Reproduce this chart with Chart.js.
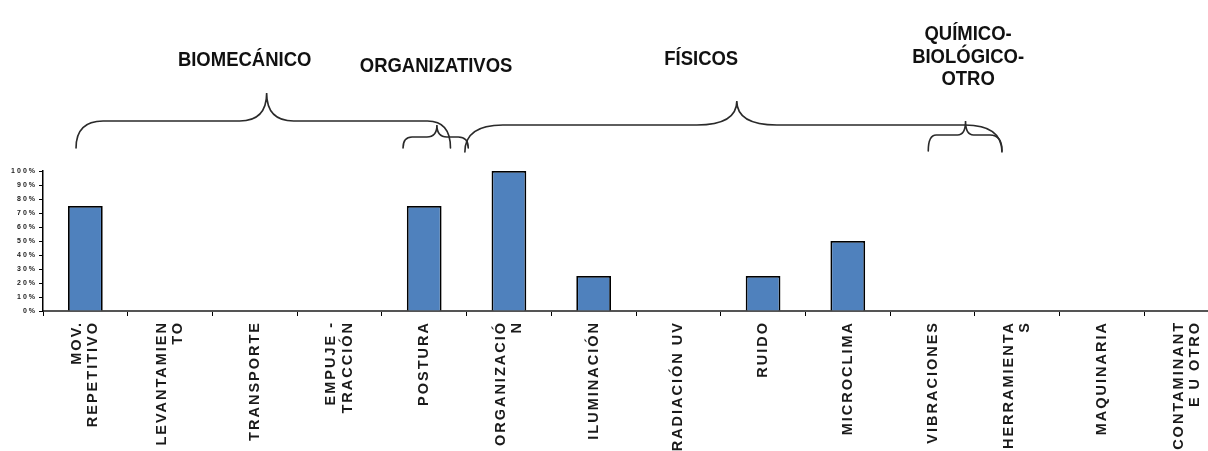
<!DOCTYPE html>
<html>
<head>
<meta charset="utf-8">
<script src="https://cdn.jsdelivr.net/npm/chart.js@4.4.1/dist/chart.umd.min.js"></script>
<style>
  html, body { margin: 0; padding: 0; background: #fff; overflow: hidden; width: 1208px; height: 451px; }
  #wrap { position: absolute; left: 0; top: 0; width: 1236px; height: 451px; }
</style>
</head>
<body>
<div id="wrap"><canvas id="c" width="1236" height="451"></canvas></div>
<script>
// Risk factors (categories) and the share of each one
const categories = [
  ['MOV.', 'REPETITIVO'],
  ['LEVANTAMIEN', 'TO'],
  'TRANSPORTE',
  ['EMPUJE -', 'TRACCIÓN'],
  'POSTURA',
  ['ORGANIZACIÓ', 'N'],
  'ILUMINACIÓN',
  'RADIACIÓN UV',
  'RUIDO',
  'MICROCLIMA',
  'VIBRACIONES',
  ['HERRAMIENTA', 'S'],
  'MAQUINARIA',
  ['CONTAMINANT', 'E U OTRO']
];
const values = [75, 0, 0, 0, 75, 100, 25, 0, 25, 50, 0, 0, 0, 0];
const yTickLabels = ['0%', '10%', '20%', '30%', '40%', '50%', '60%', '70%', '80%', '90%', '100%'];
const groupTitles = [
  ['BIOMECÁNICO'],
  ['ORGANIZATIVOS'],
  ['FÍSICOS'],
  ['QUÍMICO-', 'BIOLÓGICO-', 'OTRO']
];

const FONT = '"Liberation Sans", Arial, Helvetica, sans-serif';

// Wide tracking used for all axis text
const tracking = {
  id: 'tracking',
  beforeUpdate(chart) { chart.ctx.letterSpacing = '2px'; },
  beforeDraw(chart) { chart.ctx.letterSpacing = '2px'; }
};

// Centre multi-line rotated labels as a block on their tick
const centerLabels = {
  id: 'centerLabels',
  afterLayout(chart) {
    const items = chart.scales.x.getLabelItems();
    items.forEach(it => {
      if (Array.isArray(it.label) && it.label.length > 1) {
        it.options.translation[0] -= (it.label.length - 1) * it.font.lineHeight / 2;
      }
    });
  }
};

// Curly braces grouping the categories, with their group titles
const braceLayout = [
  { from: -0.11, tip: 2.14, to: 4.31, yTip: 93,  yBar: 121, yEnd: 148, rl: 27, rt: 27, rr: 23 },
  { from: 3.75,  tip: 4.15, to: 4.52, yTip: 125, yBar: 137, yEnd: 148, rl: 9,  rt: 10, rr: 10 },
  { from: 4.48,  tip: 7.69, to: 10.82, yTip: 101, yBar: 125, yEnd: 152, rl: 38, rt: 40, rr: 37 },
  { from: 9.95,  tip: 10.39, to: 10.82, yTip: 121, yBar: 135, yEnd: 151, rl: 8,  rt: 8,  rr: 12 }
];
const titleLayout = [
  { at: 1.88,  baselines: [66] },
  { at: 4.14,  baselines: [72] },
  { at: 7.27,  baselines: [65] },
  { at: 10.42, baselines: [40, 62.5, 85] }
];

function drawBrace(ctx, xl, xt, xr, b) {
  ctx.beginPath();
  ctx.moveTo(xl, b.yEnd);
  ctx.quadraticCurveTo(xl, b.yBar, xl + b.rl, b.yBar);
  ctx.lineTo(xt - b.rt, b.yBar);
  ctx.quadraticCurveTo(xt, b.yBar, xt, b.yTip);
  ctx.quadraticCurveTo(xt, b.yBar, xt + b.rt, b.yBar);
  ctx.lineTo(xr - b.rr, b.yBar);
  ctx.quadraticCurveTo(xr, b.yBar, xr, b.yEnd);
  ctx.stroke();
}

const groups = {
  id: 'groups',
  afterDraw(chart) {
    const ctx = chart.ctx;
    const xs = chart.scales.x;
    const px = v => xs.getPixelForValue(v);
    ctx.save();
    ctx.letterSpacing = '0px';
    ctx.strokeStyle = '#2a2a2a';
    ctx.lineWidth = 1.6;
    ctx.lineCap = 'round';
    braceLayout.forEach(b => drawBrace(ctx, px(b.from), px(b.tip), px(b.to), b));

    ctx.fillStyle = '#111';
    ctx.font = 'bold 21px ' + FONT;
    ctx.textAlign = 'center';
    ctx.textBaseline = 'alphabetic';
    groupTitles.forEach((lines, i) => {
      const t = titleLayout[i];
      lines.forEach((line, j) => {
        ctx.save();
        ctx.translate(px(t.at), t.baselines[j]);
        ctx.scale(0.88, 1);
        ctx.fillText(line, 0, 0);
        ctx.restore();
      });
    });
    ctx.restore();
  }
};

new Chart(document.getElementById('c'), {
  type: 'bar',
  data: {
    labels: categories,
    datasets: [{
      data: values,
      backgroundColor: '#4f81bd',
      borderColor: '#000',
      borderWidth: 1.8,
      barPercentage: 0.41,
      categoryPercentage: 1
    }]
  },
  options: {
    responsive: false,
    animation: false,
    events: [],
    layout: { padding: { top: 171, right: 7, left: 0, bottom: 0 } },
    plugins: { legend: { display: false }, tooltip: { enabled: false } },
    scales: {
      x: {
        grid: { display: true, drawOnChartArea: false, offset: true, color: '#000', tickLength: 5, lineWidth: 1 },
        border: { color: '#555', width: 2 },
        ticks: {
          autoSkip: false, minRotation: 90, maxRotation: 90, padding: 5,
          color: '#1a1a1a',
          font: { family: FONT, size: 14.5, weight: 'bold', lineHeight: 1.12 }
        },
        afterFit(s) { s.height = 140; }
      },
      y: {
        min: 0, max: 100,
        ticks: {
          stepSize: 10, padding: 2, color: '#222',
          callback: (v, i) => yTickLabels[i],
          font: { family: FONT, size: 7, weight: 'bold' }
        },
        grid: { drawOnChartArea: false, color: '#000', tickLength: 4 },
        border: { color: '#000', width: 1.5 },
        afterFit(s) { s.width = 43; }
      }
    }
  },
  plugins: [tracking, centerLabels, groups]
});
</script>
</body>
</html>
